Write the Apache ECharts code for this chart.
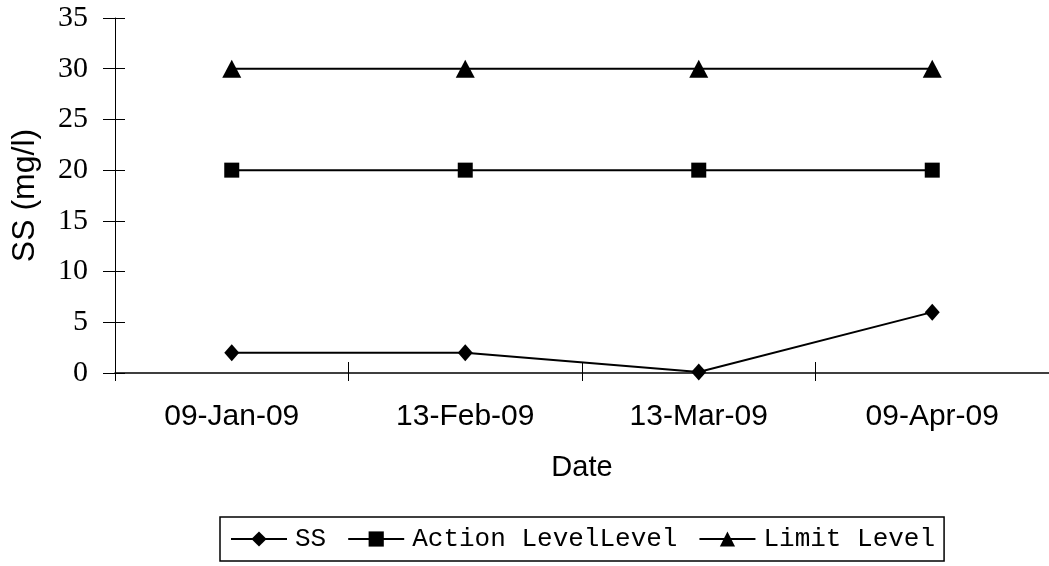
<!DOCTYPE html>
<html>
<head>
<meta charset="utf-8">
<script src="https://cdn.jsdelivr.net/npm/echarts@6/dist/echarts.min.js"></script>
<style>html,body{margin:0;padding:0;background:#fff;}#c{width:1049px;height:566px;}</style>
</head>
<body>
<div id="c"></div>
<script>
var categories = ['09-Jan-09', '13-Feb-09', '13-Mar-09', '09-Apr-09'];
var ssValues = [2, 2, 0.1, 6];
var actionValues = [20, 20, 20, 20];
var limitValues = [30, 30, 30, 30];
var seriesNames = ['SS', 'Action LevelLevel', 'Limit Level'];

var chart = echarts.init(document.getElementById('c'));
var lineStyle = { color: '#000', width: 2 };
chart.setOption({
  animation: false,
  backgroundColor: '#fff',
  grid: { left: 115, top: 18, bottom: 193, right: -6, containLabel: false },
  legend: {
    left: 220, top: 517,
    data: seriesNames,
    itemWidth: 56, itemHeight: 19, itemGap: 21,
    padding: [9, 9, 9, 10],
    borderColor: '#000', borderWidth: 1.5, borderRadius: 0,
    lineStyle: { width: 2, color: '#000' },
    textStyle: { fontFamily: 'Liberation Mono', fontSize: 26, color: '#000', padding: [0, 0, 0, 3] }
  },
  xAxis: [{
    type: 'category', data: categories, boundaryGap: true,
    name: 'Date', nameLocation: 'middle', nameGap: 80,
    nameTextStyle: { fontFamily: 'Liberation Sans', fontSize: 29, color: '#000' },
    axisLine: { lineStyle: { color: '#000', width: 1.5 } },
    axisTick: { show: true, interval: 0, length: 8, lineStyle: { color: '#000', width: 1 } },
    axisLabel: { interval: 0, margin: 29, fontFamily: 'Liberation Sans', fontSize: 30, color: '#000' },
    splitLine: { show: false }
  }, {
    type: 'category', data: categories, boundaryGap: true, position: 'bottom',
    axisLine: { show: false },
    axisTick: { show: true, inside: true, interval: 0, length: 11, lineStyle: { color: '#000', width: 1 } },
    axisLabel: { show: false }, splitLine: { show: false }
  }],
  yAxis: [{
    type: 'value', min: 0, max: 35, interval: 5,
    name: 'SS (mg/l)', nameLocation: 'middle', nameGap: 74, nameRotate: 90,
    nameTextStyle: { fontFamily: 'Liberation Sans', fontSize: 32, color: '#000' },
    axisLine: { show: true, lineStyle: { color: '#000', width: 1 } },
    axisTick: { show: true, length: 12, lineStyle: { color: '#000', width: 1 } },
    axisLabel: { margin: 27, fontFamily: 'Liberation Serif', fontSize: 30, color: '#000' },
    splitLine: { show: false }
  }, {
    type: 'value', min: 0, max: 35, interval: 5, position: 'left',
    axisLine: { show: false },
    axisTick: { show: true, inside: true, length: 10, lineStyle: { color: '#000', width: 1 } },
    axisLabel: { show: false }, splitLine: { show: false }
  }],
  series: [{
    name: seriesNames[0], type: 'line', data: ssValues,
    symbol: 'diamond', symbolSize: [15, 17],
    lineStyle: lineStyle, itemStyle: { color: '#000' }
  }, {
    name: seriesNames[1], type: 'line', data: actionValues,
    symbol: 'rect', symbolSize: 15,
    lineStyle: lineStyle, itemStyle: { color: '#000' }
  }, {
    name: seriesNames[2], type: 'line', data: limitValues,
    symbol: 'triangle', symbolSize: [19, 18],
    lineStyle: lineStyle, itemStyle: { color: '#000' }
  }]
});
</script>
</body>
</html>
